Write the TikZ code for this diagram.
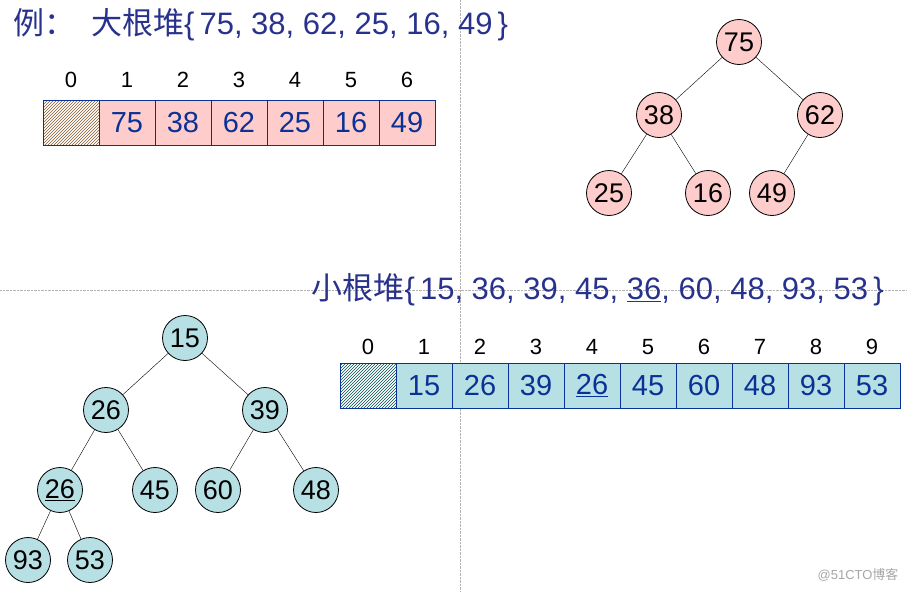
\documentclass[tikz,border=0pt]{standalone}
\usepackage{fontspec}
\setmainfont{Liberation Sans}
\newfontfamily\cjk{Noto Sans CJK SC}
\usetikzlibrary{patterns}
\definecolor{inkblue}{RGB}{40,50,140}
\definecolor{numblue}{RGB}{10,50,150}
\definecolor{heappink}{RGB}{255,204,204}
\definecolor{heapcyan}{RGB}{183,224,228}
\tikzset{
    cell/.style={draw=numblue, thick, minimum width=56pt, minimum height=45pt, inner sep=0pt, text=numblue, font=\fontsize{29}{29}\selectfont},
    idx/.style={font=\fontsize{22}{22}\selectfont},
    hnode/.style={circle, draw=black, thick, minimum size=45pt, inner sep=0pt, font=\fontsize{27}{27}\selectfont},
    guide/.style={gray!60, densely dotted}
}
\begin{document}
\begin{tikzpicture}[x=1pt,y=-1pt]
    \useasboundingbox (0,0) rectangle (907,592);
    % guides
    \draw[guide] (460,0) -- (460,592);
    \draw[guide] (0,290) -- (907,290);

    % 大根堆
    \node[anchor=west, text=inkblue, font=\fontsize{31}{31}\selectfont] (titleA) at (10,25)
        {{\cjk 例：\enspace 大根堆}\{\,75, 38, 62, 25, 16, 49\,\}};
    \node[cell, pattern=north east lines, pattern color=brown!70!black] (a0) at (71,122.5) {};
    \node[idx] at (71,80) {0};
    \foreach \i/\v in {1/75, 2/38, 3/62, 4/25, 5/16, 6/49} {
        \node[cell, fill=heappink] (a\i) at (71+56*\i,122.5) {\v};
        \node[idx] at (71+56*\i,80) {\i};
    }
    \node[hnode, fill=heappink] (p75) at (739,42) {75};
    \node[hnode, fill=heappink] (p38) at (659,115) {38};
    \node[hnode, fill=heappink] (p62) at (820,115) {62};
    \node[hnode, fill=heappink] (p25) at (609,193) {25};
    \node[hnode, fill=heappink] (p16) at (708,193) {16};
    \node[hnode, fill=heappink] (p49) at (772,193) {49};
    \draw (p75) -- (p38);
    \draw (p75) -- (p62);
    \draw (p38) -- (p25);
    \draw (p38) -- (p16);
    \draw (p62) -- (p49);

    % 小根堆
    \node[anchor=west, text=inkblue, font=\fontsize{31}{31}\selectfont] (titleB) at (308,290)
        {{\cjk 小根堆}\{\,15, 36, 39, 45, \underline{36}, 60, 48, 93, 53\,\}};
    \node[cell, pattern=north east lines, pattern color=teal!60!black] (b0) at (368,386) {};
    \node[idx] at (368,347) {0};
    \foreach \i/\v in {1/15, 2/26, 3/39, 4/\underline{26}, 5/45, 6/60, 7/48, 8/93, 9/53} {
        \node[cell, fill=heapcyan] (b\i) at (368+56*\i,386) {\v};
        \node[idx] at (368+56*\i,347) {\i};
    }
    \node[hnode, fill=heapcyan] (c15) at (185,338) {15};
    \node[hnode, fill=heapcyan] (c26) at (106,410) {26};
    \node[hnode, fill=heapcyan] (c39) at (265,410) {39};
    \node[hnode, fill=heapcyan] (c26b) at (60,490) {\underline{26}};
    \node[hnode, fill=heapcyan] (c45) at (155,490) {45};
    \node[hnode, fill=heapcyan] (c60) at (218,490) {60};
    \node[hnode, fill=heapcyan] (c48) at (316,490) {48};
    \node[hnode, fill=heapcyan] (c93) at (28,560) {93};
    \node[hnode, fill=heapcyan] (c53) at (90,560) {53};
    \draw (c15) -- (c26);
    \draw (c15) -- (c39);
    \draw (c26) -- (c26b);
    \draw (c26) -- (c45);
    \draw (c39) -- (c60);
    \draw (c39) -- (c48);
    \draw (c26b) -- (c93);
    \draw (c26b) -- (c53);

    \node[anchor=east, text=gray!70, font=\fontsize{13}{13}\selectfont] (mark) at (902,575) {@51CTO{\cjk 博客}};
\end{tikzpicture}
\end{document}
